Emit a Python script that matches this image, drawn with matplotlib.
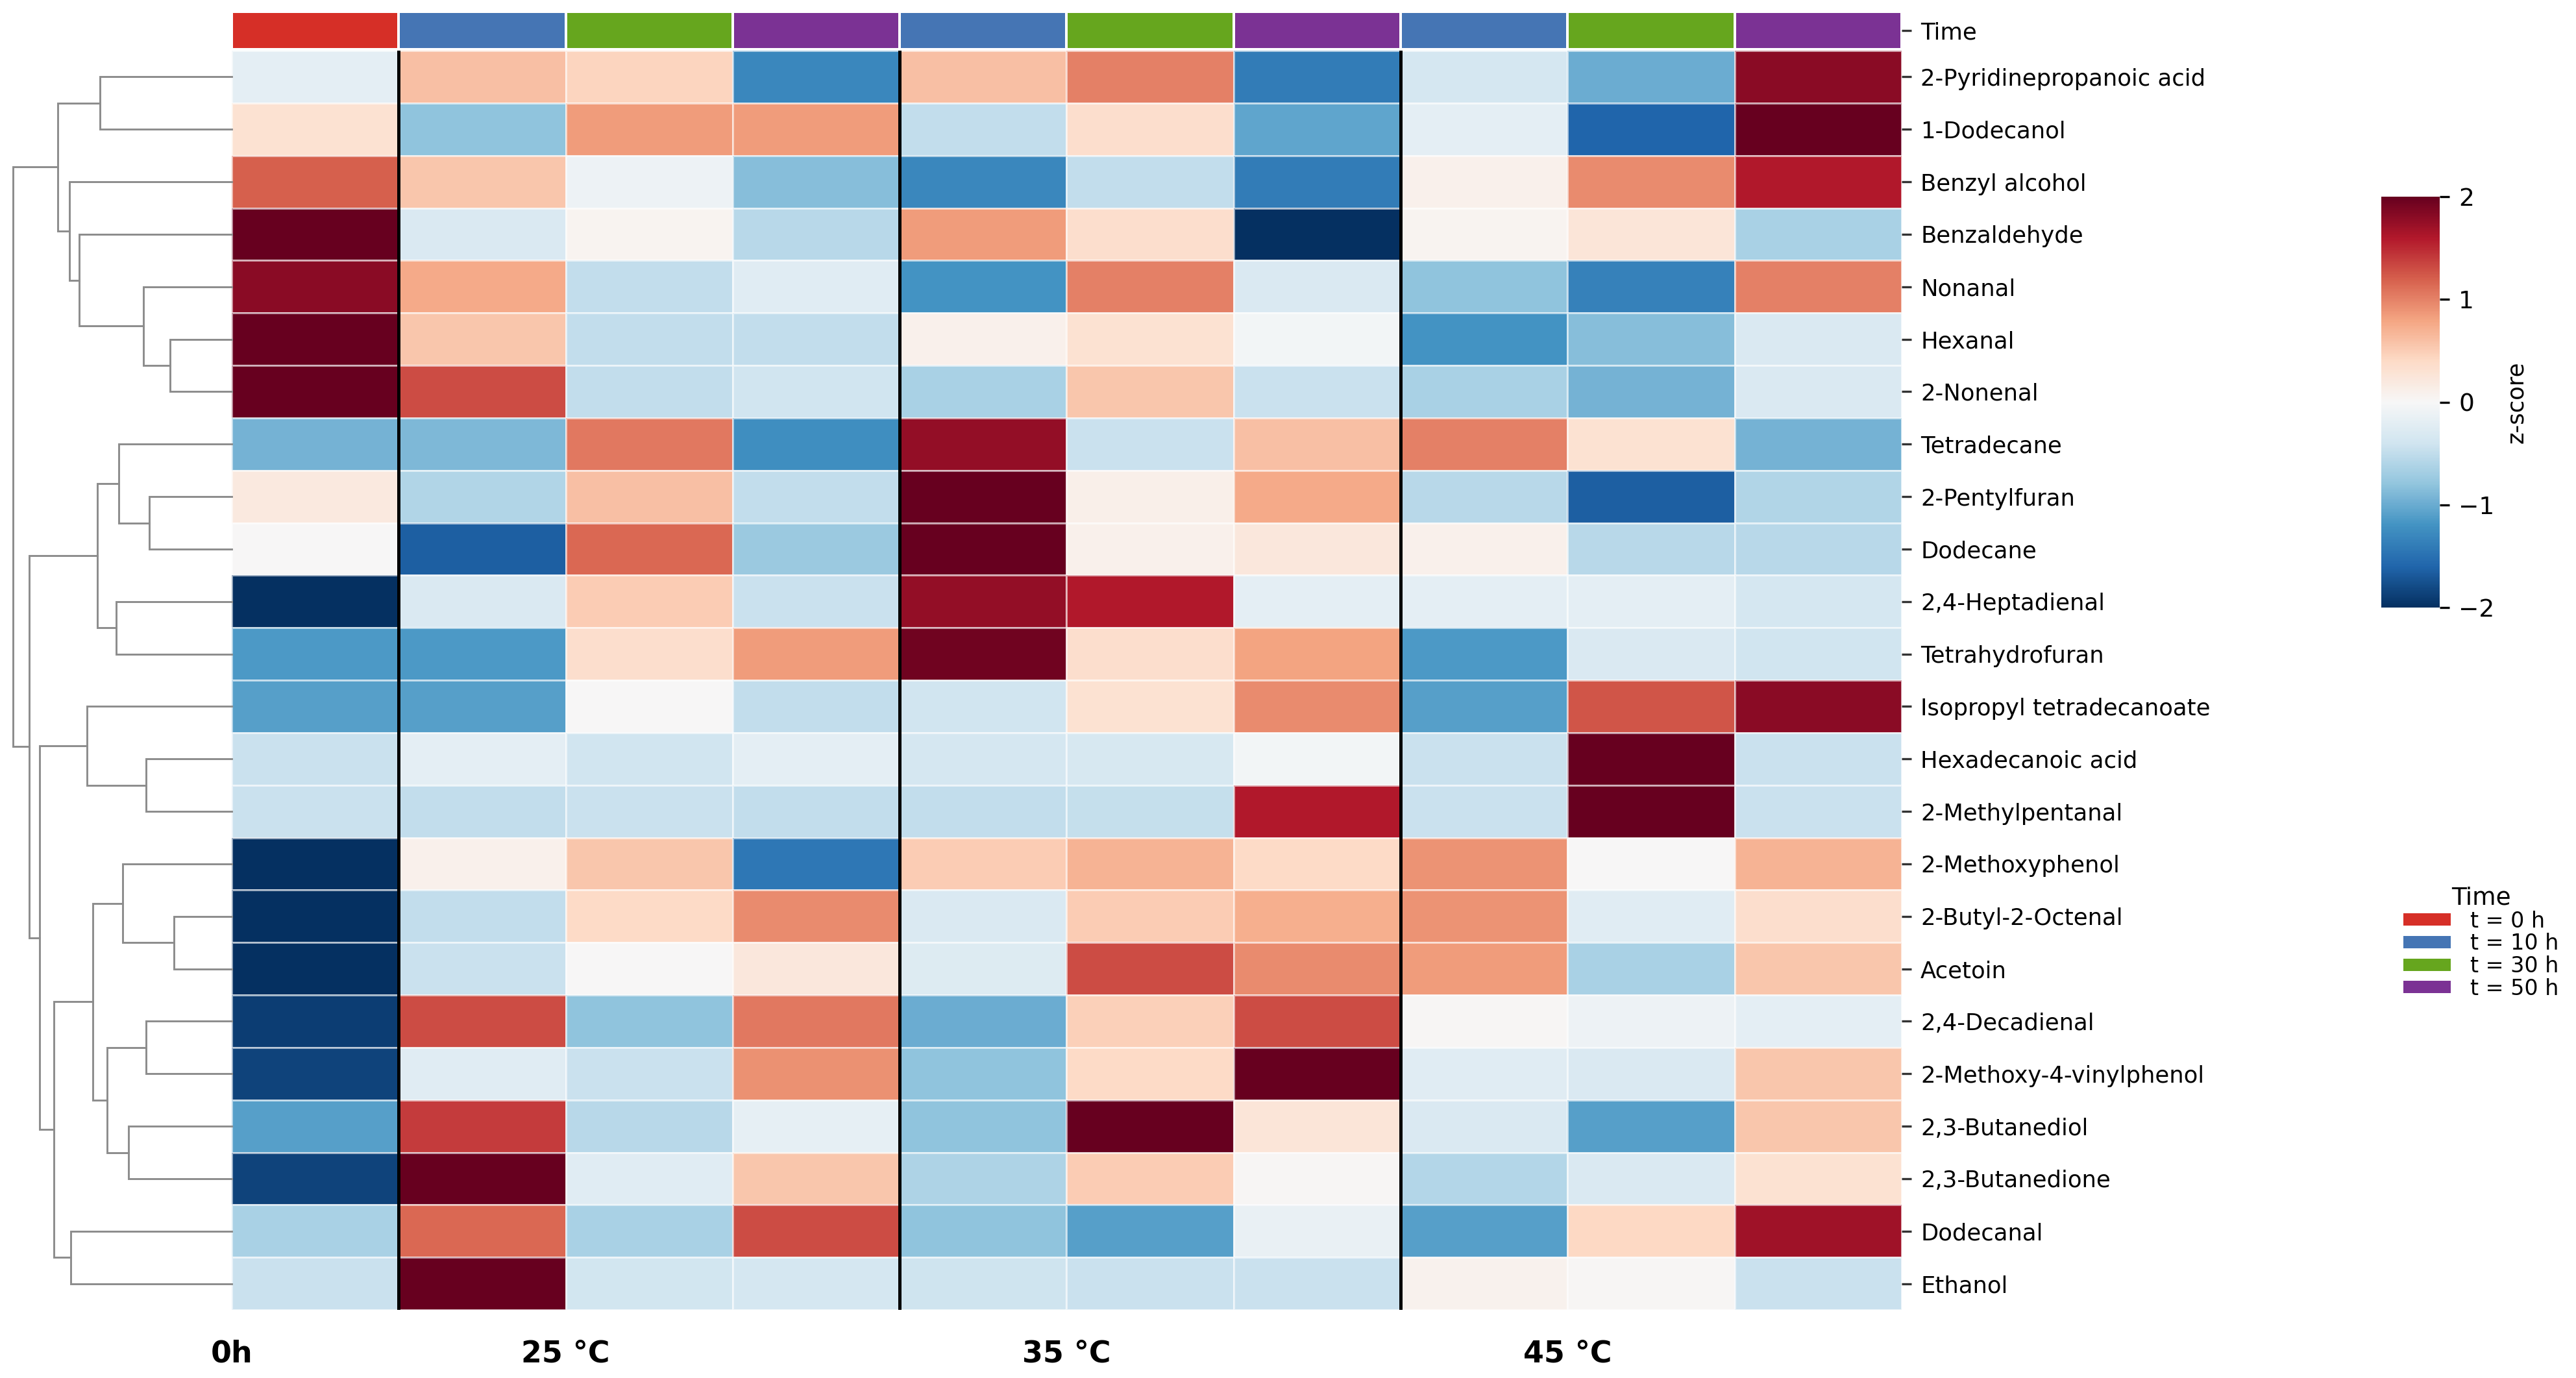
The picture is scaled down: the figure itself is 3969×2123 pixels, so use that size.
import numpy as np
import matplotlib
matplotlib.use("Agg")
import matplotlib.pyplot as plt
from matplotlib.colors import ListedColormap
from matplotlib.patches import Patch

# ---- data ----
compounds = [
    "2-Pyridinepropanoic acid", "1-Dodecanol", "Benzyl alcohol", "Benzaldehyde",
    "Nonanal", "Hexanal", "2-Nonenal", "Tetradecane", "2-Pentylfuran", "Dodecane",
    "2,4-Heptadienal", "Tetrahydrofuran", "Isopropyl tetradecanoate",
    "Hexadecanoic acid", "2-Methylpentanal", "2-Methoxyphenol", "2-Butyl-2-Octenal",
    "Acetoin", "2,4-Decadienal", "2-Methoxy-4-vinylphenol", "2,3-Butanediol",
    "2,3-Butanedione", "Dodecanal", "Ethanol",
]
groups = ["0h", "25 °C", "35 °C", "45 °C"]
group_sizes = [1, 3, 3, 3]
sample_time = [0, 10, 30, 50, 10, 30, 50, 10, 30, 50]   # hours, one per column
time_levels = [0, 10, 30, 50]
time_colors = ["#d62f27", "#4575b4", "#66a61e", "#7b3294"]

# z-scores, rows = compounds, cols = 0h | 25C 10/30/50h | 35C 10/30/50h | 45C 10/30/50h
zscore = np.array([
    [-0.20,  0.60,  0.45, -1.30,  0.60,  1.00, -1.40, -0.35, -1.00,  1.80],
    [ 0.30, -0.80,  0.85,  0.85, -0.50,  0.35, -1.05, -0.20, -1.60,  2.00],
    [ 1.20,  0.55, -0.10, -0.85, -1.30, -0.50, -1.40,  0.10,  0.95,  1.60],
    [ 2.00, -0.30,  0.05, -0.55,  0.85,  0.35, -2.00,  0.05,  0.25, -0.65],
    [ 1.80,  0.75, -0.50, -0.25, -1.20,  1.00, -0.30, -0.80, -1.35,  1.00],
    [ 2.00,  0.55, -0.50, -0.50,  0.10,  0.30, -0.05, -1.20, -0.85, -0.30],
    [ 2.00,  1.30, -0.50, -0.40, -0.65,  0.55, -0.45, -0.65, -0.95, -0.30],
    [-0.95, -0.90,  1.05, -1.25,  1.75, -0.45,  0.60,  1.00,  0.30, -0.95],
    [ 0.20, -0.60,  0.60, -0.50,  2.00,  0.12,  0.75, -0.55, -1.65, -0.60],
    [ 0.00, -1.65,  1.15, -0.75,  2.00,  0.10,  0.22,  0.10, -0.55, -0.55],
    [-2.00, -0.30,  0.50, -0.45,  1.75,  1.60, -0.20, -0.20, -0.20, -0.35],
    [-1.15, -1.15,  0.35,  0.85,  1.95,  0.35,  0.80, -1.15, -0.30, -0.40],
    [-1.10, -1.10,  0.00, -0.50, -0.40,  0.30,  0.95, -1.10,  1.25,  1.80],
    [-0.45, -0.20, -0.40, -0.20, -0.35, -0.33, -0.05, -0.45,  2.00, -0.45],
    [-0.45, -0.50, -0.45, -0.50, -0.50, -0.48,  1.60, -0.45,  2.00, -0.45],
    [-2.00,  0.10,  0.55, -1.45,  0.50,  0.70,  0.40,  0.90,  0.00,  0.70],
    [-2.00, -0.50,  0.40,  0.95, -0.30,  0.50,  0.72,  0.90, -0.25,  0.35],
    [-2.00, -0.45,  0.00,  0.22, -0.28,  1.30,  0.95,  0.85, -0.65,  0.55],
    [-1.90,  1.30, -0.80,  1.05, -1.00,  0.48,  1.30,  0.02, -0.10, -0.20],
    [-1.85, -0.25, -0.45,  0.92, -0.80,  0.40,  2.00, -0.25, -0.30,  0.55],
    [-1.10,  1.40, -0.55, -0.18, -0.80,  2.00,  0.25, -0.30, -1.10,  0.55],
    [-1.85,  2.00, -0.25,  0.55, -0.62,  0.50,  0.03, -0.58, -0.30,  0.30],
    [-0.65,  1.15, -0.65,  1.30, -0.80, -1.10, -0.15, -1.10,  0.42,  1.70],
    [-0.45,  2.00, -0.38, -0.35, -0.42, -0.45, -0.45,  0.08,  0.02, -0.45],
])

# row dendrogram: (left, right, height); leaves 0..23, new clusters numbered from 24
merges = [
    (0, 1, 6.02), (5, 6, 2.82), (4, 25, 4.04), (3, 26, 6.97), (2, 27, 7.42),
    (24, 28, 7.95), (8, 9, 3.77), (7, 30, 5.16), (10, 11, 5.28), (31, 32, 6.14),
    (13, 14, 3.92), (12, 34, 6.62), (16, 17, 2.64), (15, 36, 4.99), (18, 19, 3.92),
    (20, 21, 4.72), (38, 39, 5.70), (37, 40, 6.35), (22, 23, 7.36), (41, 42, 8.13),
    (35, 43, 8.78), (33, 44, 9.26), (29, 45, 10.0),
]

FS = 8.5
W, H = 3970, 2123
fig = plt.figure(figsize=(W / 300, H / 300), dpi=300)
plt.rcParams["font.family"] = ["DejaVu Sans"]


def fx(px):
    return px / W


def fy(px):
    return 1 - px / H


n_rows, n_cols = zscore.shape

# ---- heatmap ----
ax = fig.add_axes([fx(357), fy(2018), fx(2930 - 357), (2018 - 78) / H])
mesh = ax.pcolormesh(zscore, cmap="RdBu_r", vmin=-2, vmax=2,
                     edgecolors=(1, 1, 1, 0.6), linewidth=0.35)
ax.set_xlim(0, n_cols)
ax.set_ylim(n_rows, 0)
for s in ax.spines.values():
    s.set_visible(False)
bounds = np.cumsum(group_sizes)[:-1]
for b in bounds:
    ax.axvline(b, color="black", lw=1.2)
starts = np.concatenate([[0], bounds])
ax.set_xticks(starts + np.array(group_sizes) // 2)
ax.set_xticklabels(groups, fontsize=11, fontweight="bold")
ax.tick_params(axis="x", length=0, pad=11)
ax.yaxis.tick_right()
ax.set_yticks(np.arange(n_rows) + 0.5)
ax.set_yticklabels(compounds, fontsize=FS)
ax.tick_params(axis="y", length=3.5, width=0.8, color="#333333", pad=3.5)

# ---- column colours (time) ----
cax_top = fig.add_axes([fx(357), fy(76), fx(2930 - 357), (76 - 18) / H])
tidx = np.array([time_levels.index(t) for t in sample_time])[None, :]
cax_top.pcolormesh(tidx, cmap=ListedColormap(time_colors), vmin=-0.5,
                   vmax=len(time_levels) - 0.5, edgecolors="white", linewidth=0.5)
cax_top.set_xlim(0, n_cols)
cax_top.set_xticks([])
cax_top.yaxis.tick_right()
cax_top.set_yticks([0.5])
cax_top.set_yticklabels(["Time"], fontsize=FS)
cax_top.tick_params(axis="y", length=3.5, width=0.8, color="#333333", pad=3.5)
for s in cax_top.spines.values():
    s.set_visible(False)

# ---- row dendrogram ----
dax = fig.add_axes([0, fy(2018), fx(357), (2018 - 78) / H])
pos = {i: (0.0, i + 0.5) for i in range(n_rows)}
for k, (a, b, h) in enumerate(merges):
    ha, ya = pos[a]
    hb, yb = pos[b]
    dax.plot([ha, h, h, hb], [ya, ya, yb, yb], color="#8c8c8c", lw=0.7,
             solid_joinstyle="miter", clip_on=False)
    pos[n_rows + k] = (h, (ya + yb) / 2)
root_h = merges[-1][2]
dax.set_xlim(root_h * 357 / (357 - 20), 0)
dax.set_ylim(n_rows, 0)
dax.axis("off")

# ---- colourbar ----
cbax = fig.add_axes([fx(3669), fy(936), fx(3759 - 3669), (936 - 303) / H])
cb = fig.colorbar(mesh, cax=cbax, ticks=[-2, -1, 0, 1, 2])
cb.outline.set_visible(False)
cb.ax.tick_params(labelsize=9, length=3.5, width=0.8)
cb.set_label("z-score", fontsize=FS)

# ---- legend ----
handles = [Patch(facecolor=c, edgecolor="none") for c in time_colors]
labels = [f"t = {t} h" for t in time_levels]
fig.legend(handles, labels, title="Time", loc="upper left",
           bbox_to_anchor=(fx(3703), fy(1365)), frameon=False, fontsize=8,
           title_fontsize=9, handlelength=2.2, handleheight=0.5,
           handletextpad=0.9, labelspacing=0.05, borderpad=0, borderaxespad=0)

fig.savefig("out.png", dpi=300, facecolor="white")
